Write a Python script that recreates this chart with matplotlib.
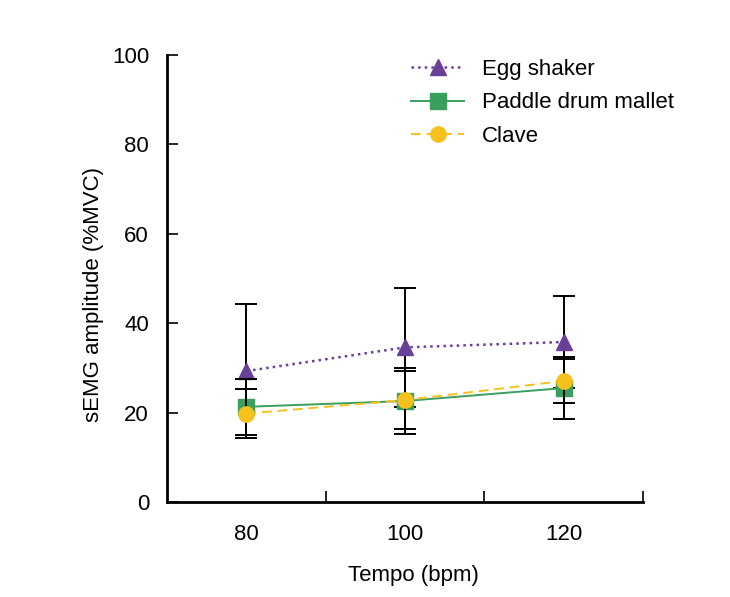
import matplotlib
matplotlib.use("Agg")
import matplotlib.pyplot as plt
from matplotlib.ticker import FixedLocator, NullFormatter

plt.rcParams['font.family'] = ['Liberation Sans', 'DejaVu Sans']

tempo = [80, 100, 120]
tick_labels = ['80', '100', '120']
series_names = ['Egg shaker', 'Paddle drum mallet', 'Clave']
egg_mean = [29.3, 34.6, 35.8]
egg_sd = [15.0, 13.3, 10.3]
paddle_mean = [21.3, 22.6, 25.5]
paddle_sd = [6.2, 7.4, 6.9]
clave_mean = [19.8, 22.8, 27.1]
clave_sd = [5.5, 6.5, 5.0]

purple = '#6a3f98'
green = '#3a9e5f'
yellow = '#f7c11d'

fig = plt.figure(figsize=(7.30, 5.97), dpi=100)
ax = fig.add_axes([0.229, 0.159, 0.652, 0.749])

eb = dict(ecolor='black', elinewidth=1.4, capsize=8, capthick=1.4)
ax.errorbar(tempo, egg_mean, yerr=egg_sd, color=purple, linestyle=':', linewidth=1.8,
            marker='^', markersize=12, label=series_names[0], zorder=3, **eb)
ax.errorbar(tempo, paddle_mean, yerr=paddle_sd, color=green, linestyle='-', linewidth=1.4,
            marker='s', markersize=11, label=series_names[1], zorder=4, **eb)
ax.errorbar(tempo, clave_mean, yerr=clave_sd, color=yellow, linestyle='--', linewidth=1.4,
            marker='o', markersize=11, label=series_names[2], zorder=5, dashes=(5, 3), **eb)

ax.set_xlim(70, 130)
ax.set_ylim(0, 100)
ax.set_yticks([0, 20, 40, 60, 80, 100])
ax.set_xticks(tempo)
ax.set_xticklabels(tick_labels)
ax.xaxis.set_minor_locator(FixedLocator([90, 110, 130]))
ax.xaxis.set_minor_formatter(NullFormatter())
ax.tick_params(axis='x', which='major', length=0, pad=16, labelsize=16)
ax.tick_params(axis='x', which='minor', direction='in', length=8, width=1.2)
ax.tick_params(axis='y', which='major', direction='in', length=8, width=1.2, pad=13, labelsize=16)
ax.spines['top'].set_visible(False)
ax.spines['right'].set_visible(False)
for s in ['left', 'bottom']:
    ax.spines[s].set_linewidth(2)
ax.set_xlabel('Tempo (bpm)', fontsize=16, labelpad=14)
ax.set_ylabel('sEMG amplitude (%MVC)', fontsize=16, labelpad=6)
ax.xaxis.label.set_x(0.517)
ax.yaxis.label.set_y(0.465)

h, l = ax.get_legend_handles_labels()
h = [hh[0] for hh in h]
leg = ax.legend(h, l, loc='upper left', bbox_to_anchor=(0.47, 1.035), frameon=False,
                fontsize=16, handlelength=2.4, labelspacing=0.55, handletextpad=0.8)

fig.savefig('out.png', dpi=100)
